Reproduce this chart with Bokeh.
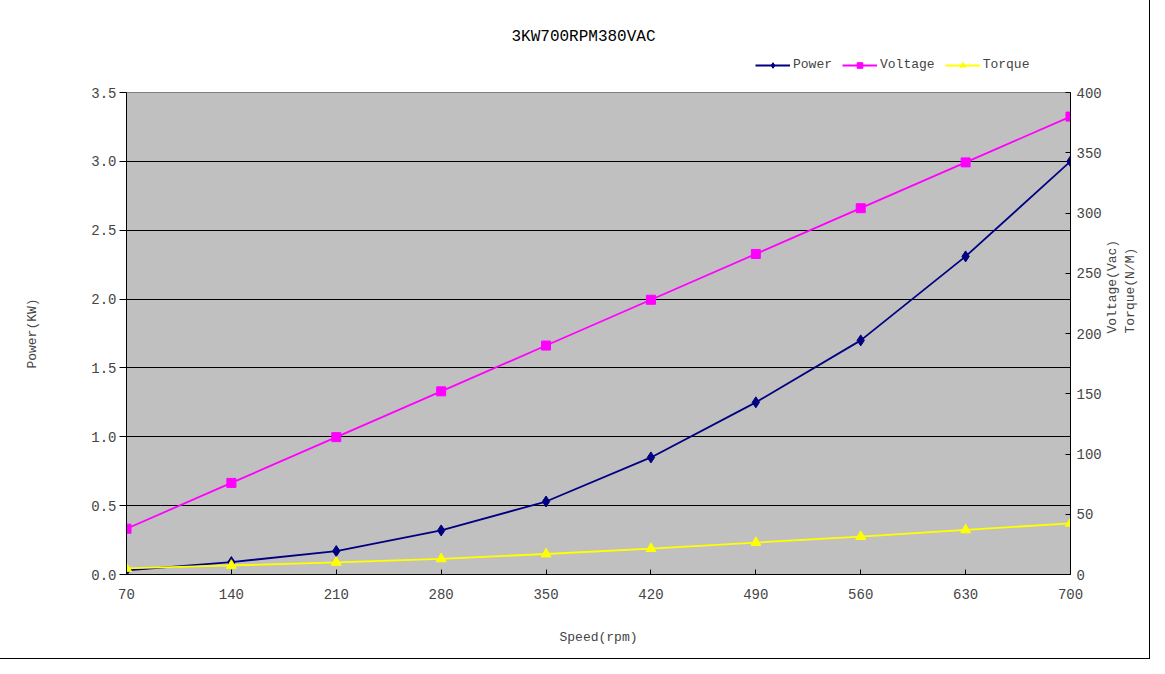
import math
from bokeh.plotting import figure
from bokeh.layouts import column
from bokeh.models import (Range1d, LinearAxis, FixedTicker, PrintfTickFormatter,
                          Legend, LegendItem)
from bokeh.core.properties import value
from bokeh.embed import file_html
from bokeh.resources import INLINE

# ---- data ----
title_text = "3KW700RPM380VAC"
speed = [70, 140, 210, 280, 350, 420, 490, 560, 630, 700]
power_kw = [0.03, 0.09, 0.17, 0.32, 0.53, 0.85, 1.25, 1.70, 2.31, 3.00]
voltage_vac = [38, 76, 114, 152, 190, 228, 266, 304, 342, 380]
torque_nm = [5, 7.5, 10, 13, 17, 21.5, 26.5, 31.5, 37, 42.5]
left_ticks = [0, 0.5, 1.0, 1.5, 2.0, 2.5, 3.0, 3.5]
right_ticks = [0, 50, 100, 150, 200, 250, 300, 350, 400]

FONT = "Liberation Mono"
W = 1149
HEAD_H = 80
FRAME_L, FRAME_R = 126, 1070

series = [
    ("Power", power_kw, "#000080", "diamond", 11),
    ("Voltage", voltage_vac, "#FF00FF", "square", 9),
    ("Torque", torque_nm, "#FFFF00", "triangle", 10),
]

# ---------- header (title + legend); its frame is aligned with the chart frame ----------
head = figure(width=W, height=HEAD_H, output_backend="svg", toolbar_location=None,
              x_range=Range1d(FRAME_L, FRAME_R), y_range=Range1d(0, HEAD_H),
              min_border=0, min_border_left=FRAME_L, min_border_right=W - FRAME_R,
              x_axis_location=None, y_axis_location=None)
head.grid.visible = False
head.outline_line_color = None
head.background_fill_color = "white"
head.border_fill_color = "white"
head.text(x=[583], y=[HEAD_H - 36], text=[title_text],
          text_font=value(FONT), text_font_size="16px", text_color="black",
          text_align="center", text_baseline="middle")

items = []
for name, vals, col, mk, sz in series:
    r1 = head.line(speed, vals, line_color=col, line_width=1.8, visible=False)
    r2 = head.scatter(speed, vals, marker=mk, size=sz, fill_color=col, line_color=col,
                      visible=False)
    items.append(LegendItem(label=name, renderers=[r1, r2]))
legend = Legend(items=items, orientation="horizontal", location=(629, 8))
legend.label_text_font = FONT
legend.label_text_font_size = "13px"
legend.glyph_width = 35
legend.glyph_height = 14
legend.label_standoff = 3
legend.spacing = 10
legend.padding = 2
legend.margin = 0
legend.border_line_color = None
legend.background_fill_alpha = 0
legend.inactive_fill_alpha = 0
head.add_layout(legend, "center")

# ---------- main chart ----------
p = figure(width=W, height=658 - HEAD_H, output_backend="svg", toolbar_location=None,
           x_range=Range1d(70, 700), y_range=Range1d(0, 3.5),
           min_border_left=FRAME_L, min_border_right=W - FRAME_R,
           min_border_top=92 - HEAD_H, min_border_bottom=84)
p.extra_y_ranges = {"right": Range1d(0, 400)}

p.background_fill_color = "#C0C0C0"
p.border_fill_color = "white"
p.outline_line_color = "#808080"
p.outline_line_width = 1

p.xgrid.visible = False
p.ygrid.grid_line_color = "black"
p.ygrid.grid_line_width = 1


def style_axis(ax, size="14px"):
    ax.minor_tick_line_color = None
    ax.axis_line_color = "black"
    ax.major_label_text_font = FONT
    ax.major_label_text_font_size = size
    ax.axis_label_text_font = FONT
    ax.axis_label_text_font_style = "normal"
    ax.axis_label_text_font_size = "13px"


xa = p.xaxis[0]
style_axis(xa)
xa.ticker = FixedTicker(ticks=speed)
xa.major_tick_in = 5
xa.major_tick_out = 0
xa.major_label_standoff = 14
xa.axis_label = "Speed(rpm)"
xa.axis_label_standoff = 28

ya = p.yaxis[0]
style_axis(ya)
ya.ticker = FixedTicker(ticks=left_ticks)
ya.formatter = PrintfTickFormatter(format="%.1f")
ya.major_tick_in = 0
ya.major_tick_out = 7
ya.major_label_standoff = 3
ya.axis_label = "Power(KW)"
ya.axis_label_standoff = 48

# right axis: ticks + "Voltage(Vac)"
ra = LinearAxis(y_range_name="right", ticker=FixedTicker(ticks=right_ticks))
style_axis(ra)
ra.major_tick_in = 5
ra.major_tick_out = 0
ra.major_label_standoff = 6
ra.axis_label = "Voltage(Vac)"
ra.axis_label_orientation = math.pi / 2
ra.axis_label_standoff = 8
p.add_layout(ra, "right")

# second right-side title line: "Torque(N/M)"
ra2 = LinearAxis(y_range_name="right", ticker=FixedTicker(ticks=[]))
style_axis(ra2)
ra2.axis_line_color = None
ra2.major_tick_line_color = None
ra2.major_tick_in = 0
ra2.major_tick_out = 0
ra2.major_label_standoff = 0
ra2.axis_label = "Torque(N/M)"
ra2.axis_label_orientation = math.pi / 2
ra2.axis_label_standoff = 0
p.add_layout(ra2, "right")

for name, vals, col, mk, sz in series:
    rng = "default" if name == "Power" else "right"
    p.line(speed, vals, y_range_name=rng, line_color=col, line_width=1.8)
    p.scatter(speed, vals, y_range_name=rng, marker=mk, size=sz,
              fill_color=col, line_color=col)

layout = column(head, p, spacing=0, styles={"outline": "1px solid black"})

open("out.html", "w").write(file_html(layout, INLINE))
